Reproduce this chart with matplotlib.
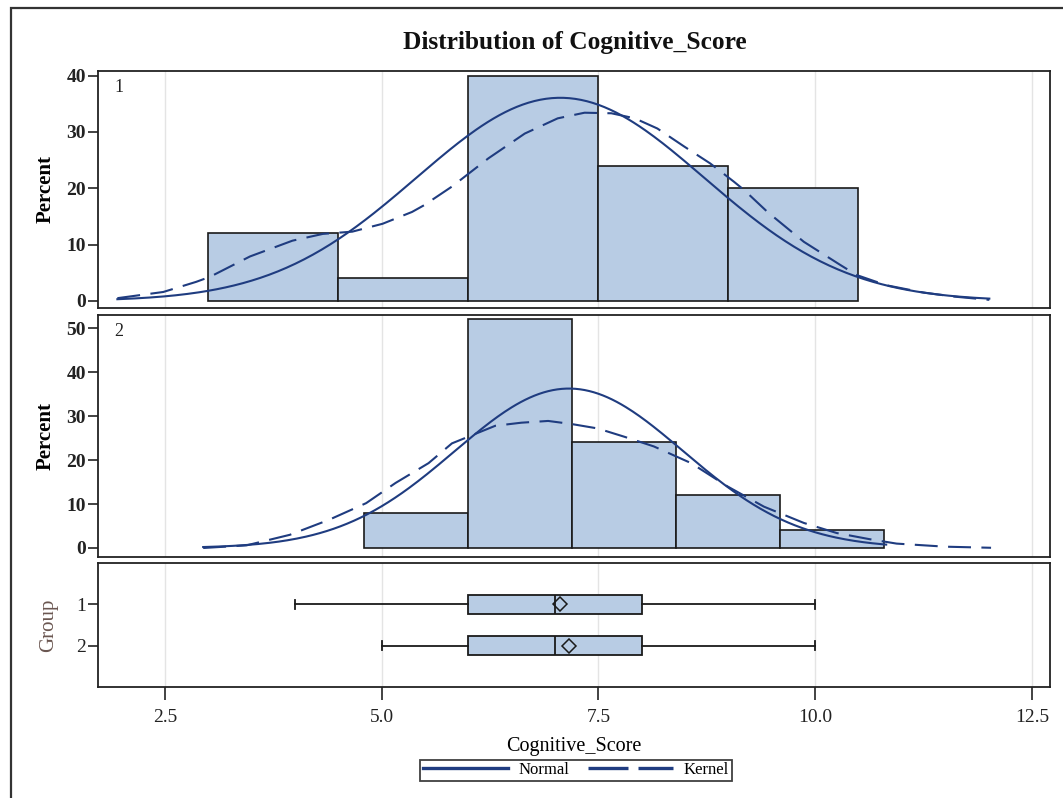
import numpy as np
import matplotlib
matplotlib.use("Agg")
import matplotlib.pyplot as plt
from matplotlib.lines import Line2D
from matplotlib.patches import Rectangle

plt.rcParams['font.family'] = ['Liberation Serif', 'DejaVu Serif']

# ---------------- data ----------------
groups = ["1", "2"]
# histogram (percent) per group
bin_edges1 = [3.0, 4.5, 6.0, 7.5, 9.0, 10.5]
pct1 = [12, 4, 40, 24, 20]
bin_edges2 = [4.8, 6.0, 7.2, 8.4, 9.6, 10.8]
pct2 = [8, 52, 24, 12, 4]

# fitted normal parameters (mean, std) and curve range per group
normal_mu = [7.06, 7.16]
normal_sd = [1.66, 1.32]
normal_range = [(1.95, 12.01), (2.94, 10.82)]

# kernel density curves (x, percent)
kern_x1 = [1.95, 2.48, 2.86, 3.02, 3.48, 3.97, 4.32, 4.66, 5.01, 5.35, 5.49,
           5.81, 6.23, 6.65, 7.03, 7.34, 7.65, 7.92, 8.18, 8.49, 8.79, 9.06,
           9.18, 9.45, 9.87, 10.29, 10.48, 10.82, 11.25, 11.59, 12.01]
kern_y1 = [0.5, 1.6, 3.4, 4.3, 7.9, 10.7, 11.9, 12.3, 13.7, 15.8, 17.0,
           20.3, 25.3, 29.7, 32.4, 33.4, 33.3, 32.4, 30.6, 27.4, 24.4, 21.2,
           19.7, 15.8, 10.5, 6.4, 4.6, 2.8, 1.5, 0.8, 0.2]
kern_x2 = [2.94, 3.44, 3.94, 4.39, 4.82, 5.16, 5.54, 5.81, 6.31, 6.61, 6.92,
           7.19, 7.49, 7.80, 8.14, 8.57, 8.99, 9.41, 9.87, 10.25, 10.63, 10.94,
           11.50, 12.03]
kern_y2 = [0.0, 0.6, 3.0, 6.4, 10.2, 14.8, 19.3, 23.8, 27.8, 28.5, 28.9,
           28.2, 27.2, 25.3, 23.1, 19.3, 14.0, 9.4, 5.7, 3.4, 2.0, 1.0,
           0.3, 0.05]

# box plot statistics per group
whis_lo = [4.0, 5.0]
q1 = [6.0, 6.0]
median = [7.0, 7.0]
q3 = [8.0, 8.0]
whis_hi = [10.0, 10.0]
means = [7.06, 7.16]

x_ticks = [2.5, 5.0, 7.5, 10.0, 12.5]
x_tick_labels = ["2.5", "5.0", "7.5", "10.0", "12.5"]
y_ticks1 = [0, 10, 20, 30, 40]
y_ticks2 = [0, 10, 20, 30, 40, 50]

# ---------------- style ----------------
W, H = 1063, 798
FILL = '#B8CCE4'
LINE = '#1F3C80'
GRID = '#E4E4E4'
XLIM = (1.73, 12.71)
AX_L, AX_R = 98.3, 1050

fig = plt.figure(figsize=(W / 100, H / 100), dpi=100)


def add_ax(top, bottom):
    return fig.add_axes([AX_L / W, 1 - bottom / H, (AX_R - AX_L) / W, (bottom - top) / H])


ax1 = add_ax(71, 307.7)
ax2 = add_ax(315, 556.7)
ax3 = add_ax(563.3, 686.7)

ylab_x = (46 - AX_L) / (AX_R - AX_L)

for ax in (ax1, ax2, ax3):
    ax.set_xlim(*XLIM)
    ax.set_xticks(x_ticks)
    for s in ax.spines.values():
        s.set_linewidth(1.3)
        s.set_color('#222222')
    ax.grid(axis='x', color=GRID, lw=1.0)
    ax.set_axisbelow(True)
    ax.tick_params(axis='y', direction='out', length=7, width=1.2, colors='#222222',
                   labelsize=14, pad=2)

for ax in (ax1, ax2):
    ax.tick_params(axis='x', length=0, labelbottom=False)


def draw_panel(ax, edges, pct, mu, sd, rng, kx, ky, label, ylim, yticks):
    widths = np.diff(edges)
    ax.bar(edges[:-1], pct, width=widths, align='edge', color=FILL,
           edgecolor='#1a1a1a', linewidth=1.2, zorder=2)
    bw = widths[0]
    xs = np.linspace(rng[0], rng[1], 300)
    ys = 100 * bw * np.exp(-0.5 * ((xs - mu) / sd) ** 2) / (sd * np.sqrt(2 * np.pi))
    ax.plot(xs, ys, color=LINE, lw=1.5, zorder=3)
    ax.plot(kx, ky, color=LINE, lw=1.5, dashes=(11, 5), zorder=3)
    ax.set_ylim(*ylim)
    ax.set_yticks(yticks)
    for t in ax.get_yticklabels():
        t.set_fontweight('bold')
    ax.set_ylabel('Percent', fontsize=15, fontweight='bold')
    ax.yaxis.set_label_coords(ylab_x, 0.5)
    ax.yaxis.label.set_va('center')
    ax.text(0.017, 0.93, label, transform=ax.transAxes, fontsize=13,
            ha='left', va='center', color='#222222')


draw_panel(ax1, bin_edges1, pct1, normal_mu[0], normal_sd[0], normal_range[0],
           kern_x1, kern_y1, groups[0], (-1.19, 40.8), y_ticks1)
draw_panel(ax2, bin_edges2, pct2, normal_mu[1], normal_sd[1], normal_range[1],
           kern_x2, kern_y2, groups[1], (-1.98, 53.0), y_ticks2)

# ---------------- box plots ----------------
stats = []
for i in range(len(groups)):
    stats.append(dict(whislo=whis_lo[i], q1=q1[i], med=median[i], q3=q3[i],
                      whishi=whis_hi[i], mean=means[i], fliers=[], label=groups[i]))
ax3.bxp(stats, positions=[1, 2], widths=0.46, orientation='horizontal',
        showmeans=True, patch_artist=True, capwidths=0.2,
        boxprops=dict(facecolor=FILL, edgecolor='#1a1a1a', linewidth=1.3),
        medianprops=dict(color='#1a1a1a', linewidth=1.3),
        whiskerprops=dict(color='#1a1a1a', linewidth=1.3),
        capprops=dict(color='#1a1a1a', linewidth=1.3),
        meanprops=dict(marker='D', markerfacecolor='none', markeredgecolor='#1a1a1a',
                       markersize=7, markeredgewidth=1.1))
ax3.set_ylim(3.0, 0.0)
ax3.set_yticks([1, 2])
ax3.set_yticklabels(groups, fontsize=14)
ax3.set_xlim(*XLIM)
ax3.set_xticks(x_ticks)
ax3.set_xticklabels(x_tick_labels, fontsize=14)
ax3.tick_params(axis='x', direction='out', length=9, width=1.2, colors='#222222', pad=7)
ax3.set_ylabel('Group', fontsize=15, color='#6A5650')
ax3.yaxis.set_label_coords((49 - AX_L) / (AX_R - AX_L), 0.5)
ax3.yaxis.label.set_va('center')
ax3.set_xlabel('Cognitive_Score', fontsize=14.5)
ax3.xaxis.set_label_coords(0.5, -(746 - 686.7) / 123.4)
ax3.xaxis.label.set_va('center')

# ---------------- title / legend / frame ----------------
fig.text(575 / W, 1 - 42 / H, 'Distribution of Cognitive_Score', ha='center', va='center',
         fontsize=18.3, fontweight='bold', color='#111111')

handles = [Line2D([], [], color=LINE, lw=2.4),
           Line2D([], [], color=LINE, lw=2.4, dashes=(12, 3))]
leg = fig.legend(handles, ['Normal', 'Kernel'], loc='center',
                 bbox_to_anchor=(576 / W, 1 - 770 / H), ncol=2, fontsize=12,
                 frameon=True, fancybox=False, handlelength=5.1, handletextpad=0.65,
                 columnspacing=1.1, borderpad=0.15, borderaxespad=0)
leg.get_frame().set_edgecolor('#111111')
leg.get_frame().set_linewidth(1.3)

fig.patches.append(Rectangle((11 / W, -0.2), 1.5, 1 - 8 / H + 0.2, fill=False,
                             transform=fig.transFigure, lw=1.6, edgecolor='#333333',
                             clip_on=False))

fig.savefig('out.png', dpi=100)
